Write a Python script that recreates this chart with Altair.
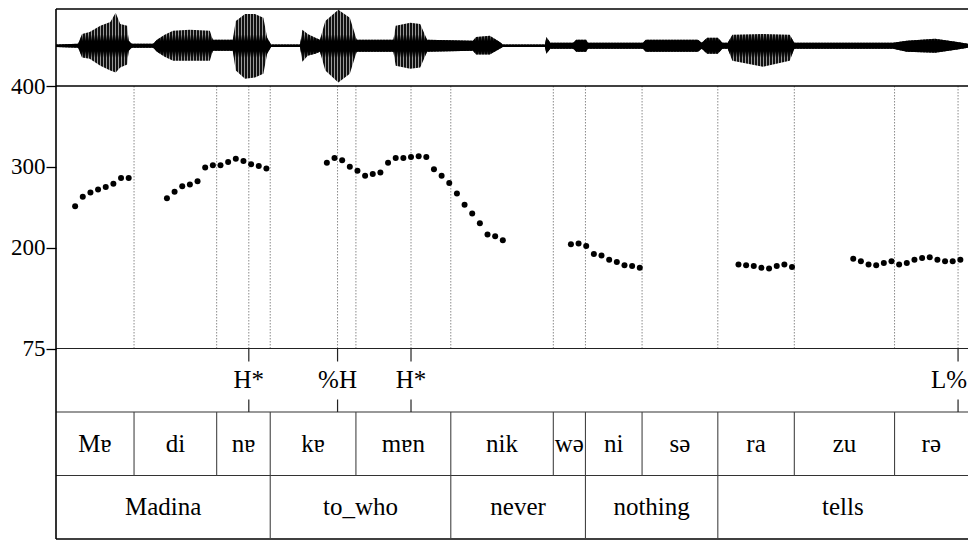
import altair as alt
import pandas as pd

T_END = 1.192
W, H = 912, 530

# ---- pitch track (time s, F0 Hz) ----
f0_time = [0.025, 0.035, 0.045, 0.055, 0.065, 0.075, 0.085, 0.095,
           0.145, 0.155, 0.165, 0.175, 0.185, 0.195, 0.205, 0.215, 0.225, 0.235, 0.245, 0.255, 0.265, 0.275,
           0.354, 0.364, 0.374, 0.384, 0.394, 0.404, 0.414, 0.424, 0.434, 0.444, 0.454, 0.464, 0.474, 0.484,
           0.494, 0.504, 0.514, 0.524, 0.534, 0.544, 0.554, 0.564, 0.574, 0.584,
           0.673, 0.683, 0.693, 0.703, 0.713, 0.723, 0.733, 0.743, 0.753, 0.763,
           0.892, 0.902, 0.912, 0.922, 0.932, 0.942, 0.952, 0.962,
           1.042, 1.052, 1.062, 1.072, 1.082, 1.092, 1.102, 1.112, 1.122, 1.132, 1.142, 1.152, 1.162, 1.172, 1.182]
f0_hz = [251, 263, 268, 272, 275, 279, 286, 286,
         261, 269, 276, 278, 282, 299, 302, 302, 306, 310, 307, 303, 301, 298,
         305, 311, 308, 300, 295, 289, 291, 293, 305, 311, 311, 312, 313, 312,
         297, 289, 280, 267, 253, 242, 230, 216, 214, 209,
         204, 205, 202, 192, 190, 185, 182, 178, 177, 175,
         179, 178, 177, 175, 174, 177, 179, 176,
         186, 183, 179, 178, 181, 183, 179, 181, 185, 187, 188, 185, 183, 183, 185]

# ---- waveform envelope (time s, upper / lower relative amplitude) ----
wave_time = [0.000, 0.029, 0.034, 0.044, 0.058, 0.071, 0.078, 0.084, 0.093, 0.095, 0.099,
             0.127, 0.132, 0.142, 0.153, 0.175, 0.201, 0.205, 0.231, 0.235, 0.247, 0.260,
             0.271, 0.276, 0.281, 0.319, 0.322, 0.329, 0.339, 0.345, 0.352, 0.369, 0.384,
             0.393, 0.441, 0.444, 0.463, 0.476, 0.485, 0.545, 0.549, 0.567, 0.580, 0.584,
             0.639, 0.641, 0.646, 0.676, 0.680, 0.693, 0.695, 0.767, 0.771, 0.839, 0.844,
             0.851, 0.865, 0.871, 0.878, 0.884, 0.924, 0.959, 0.965, 1.094, 1.112, 1.149,
             1.178, 1.192]
wave_up = [0.03, 0.05, 0.31, 0.36, 0.52, 0.62, 0.86, 0.57, 0.52, 0.13, 0.05,
           0.05, 0.16, 0.29, 0.39, 0.42, 0.39, 0.16, 0.16, 0.65, 0.83, 0.83,
           0.73, 0.21, 0.03, 0.03, 0.42, 0.31, 0.21, 0.16, 0.65, 0.94, 0.73,
           0.16, 0.16, 0.52, 0.60, 0.57, 0.16, 0.13, 0.23, 0.26, 0.10, 0.03,
           0.03, 0.23, 0.08, 0.08, 0.16, 0.16, 0.08, 0.08, 0.16, 0.16, 0.08,
           0.21, 0.21, 0.08, 0.08, 0.29, 0.31, 0.29, 0.08, 0.08, 0.13, 0.18,
           0.10, 0.05]
wave_down = [0.03, 0.05, 0.31, 0.34, 0.52, 0.65, 0.70, 0.57, 0.49, 0.13, 0.05,
             0.05, 0.16, 0.29, 0.39, 0.39, 0.39, 0.13, 0.13, 0.65, 0.86, 0.83,
             0.73, 0.21, 0.03, 0.03, 0.42, 0.26, 0.21, 0.16, 0.65, 0.96, 0.73,
             0.16, 0.16, 0.52, 0.60, 0.57, 0.16, 0.13, 0.23, 0.23, 0.08, 0.03,
             0.03, 0.21, 0.08, 0.08, 0.16, 0.16, 0.08, 0.08, 0.16, 0.16, 0.08,
             0.21, 0.21, 0.08, 0.08, 0.39, 0.55, 0.39, 0.08, 0.08, 0.16, 0.18,
             0.10, 0.05]

# ---- tiers ----
tone_labels = ["H*", "%H", "H*", "L%"]
tone_time = [0.252, 0.368, 0.464, 1.179]

syll_labels = ["M\u0250", "di", "n\u0250", "k\u0250", "m\u0250n", "nik", "w\u0259", "ni", "s\u0259", "ra", "zu", "r\u0259"]
syll_start = [0.000, 0.102, 0.210, 0.280, 0.392, 0.516, 0.650, 0.692, 0.766, 0.865, 0.965, 1.096]
syll_end = [0.102, 0.210, 0.280, 0.392, 0.516, 0.650, 0.692, 0.766, 0.865, 0.965, 1.096, 1.192]

word_labels = ["Madina", "to_who", "never", "nothing", "tells"]
word_start = [0.000, 0.280, 0.516, 0.692, 0.865]
word_end = [0.280, 0.516, 0.692, 0.865, 1.192]

# ---- frames ----
pitch_df = pd.DataFrame({"t": f0_time, "f0": f0_hz})
wave_df = pd.DataFrame({"t": wave_time, "hi": wave_up, "lo": [-v for v in wave_down]})
tone_df = pd.DataFrame({"t": tone_time, "label": tone_labels})
syll_df = pd.DataFrame({"start": syll_start, "end": syll_end, "label": syll_labels})
syll_df["mid"] = (syll_df["start"] + syll_df["end"]) / 2
word_df = pd.DataFrame({"start": word_start, "end": word_end, "label": word_labels})
word_df["mid"] = (word_df["start"] + word_df["end"]) / 2
syll_bounds = pd.DataFrame({"t": syll_start[1:]})
word_bounds = pd.DataFrame({"t": word_start[1:]})
dotted_df = pd.DataFrame({"t": sorted(syll_start[1:] + tone_time)})

xs = alt.Scale(domain=[0, T_END], nice=False, zero=False)
X = lambda f: alt.X(f, type="quantitative", scale=xs, axis=None)

# y layout (pixels from the plot top)
WAVE_BOT = 77
PITCH_BOT = 339.5
TONE_BOT = 403
SYL_BOT = 466.5

FONT = "Liberation Serif, Times New Roman, Times, serif"
one = pd.DataFrame({"k": [0]})

# striped fill to imitate the oscillation of the waveform (styling only)
N_STRIPES = 304
stripe_stops = []
for i in range(N_STRIPES):
    a, b, c = i / N_STRIPES, (i + 0.6) / N_STRIPES, (i + 1) / N_STRIPES
    stripe_stops += [alt.GradientStop(color="#111111", offset=a),
                     alt.GradientStop(color="#111111", offset=b),
                     alt.GradientStop(color="#9a9a9a", offset=b),
                     alt.GradientStop(color="#9a9a9a", offset=c)]

wave_y = alt.Y("hi:Q", scale=alt.Scale(domain=[-1, 1], range=[75, -1.5], nice=False, zero=False), axis=None)

wave = alt.Chart(wave_df).mark_area(
    color=alt.Gradient(gradient="linear", stops=stripe_stops, x1=0, x2=1, y1=0, y2=0),
    interpolate="linear",
).encode(x=X("t"), y=wave_y, y2="lo:Q")

wave_core = alt.Chart(wave_df).mark_area(
    color=alt.Gradient(
        gradient="linear",
        stops=[alt.GradientStop(color="rgba(0,0,0,0)", offset=0),
               alt.GradientStop(color="rgba(0,0,0,0)", offset=0.34),
               alt.GradientStop(color="rgba(0,0,0,1)", offset=0.43),
               alt.GradientStop(color="rgba(0,0,0,1)", offset=0.57),
               alt.GradientStop(color="rgba(0,0,0,0)", offset=0.66),
               alt.GradientStop(color="rgba(0,0,0,0)", offset=1)],
        x1=0, x2=0, y1=0, y2=1),
    interpolate="linear",
).encode(x=X("t"), y=wave_y, y2="lo:Q")

dotted = alt.Chart(dotted_df).mark_rule(color="#8a8a8a", strokeWidth=1, strokeDash=[1.5, 1.5]).encode(
    x=X("t"), y=alt.value(WAVE_BOT), y2=alt.value(PITCH_BOT)
)

pitch = alt.Chart(pitch_df).mark_circle(size=36, color="black", opacity=1).encode(
    x=X("t"),
    y=alt.Y("f0:Q",
            scale=alt.Scale(domain=[75, 400], range=[PITCH_BOT, WAVE_BOT], nice=False, zero=False),
            axis=alt.Axis(values=[75, 200, 300, 400], title=None, grid=False, domain=False,
                          tickSize=10, tickColor="black", tickWidth=1.3,
                          labelFont=FONT, labelFontSize=23, labelColor="black",
                          labelPadding=1)),
)

lines = []
for yv, col, sw in [(0, "black", 1.6), (WAVE_BOT, "black", 1.6), (PITCH_BOT, "#222222", 1.1),
                    (TONE_BOT, "#333333", 1.1), (SYL_BOT, "#333333", 1.1), (H, "black", 1.6)]:
    lines.append(
        alt.Chart(one).mark_rule(color=col, strokeWidth=sw).encode(
            x=alt.value(0), x2=alt.value(W), y=alt.value(yv)
        )
    )
lines.append(
    alt.Chart(one).mark_rule(color="black", strokeWidth=1.6).encode(
        x=alt.value(0), y=alt.value(0), y2=alt.value(H)
    )
)

tone_top = alt.Chart(tone_df).mark_rule(color="#222222", strokeWidth=1.2).encode(
    x=X("t"), y=alt.value(PITCH_BOT), y2=alt.value(PITCH_BOT + 13)
)
tone_bot = alt.Chart(tone_df).mark_rule(color="#222222", strokeWidth=1.2).encode(
    x=X("t"), y=alt.value(TONE_BOT - 12.5), y2=alt.value(TONE_BOT)
)
tone_text = alt.Chart(tone_df).transform_filter(alt.datum.label != "L%").mark_text(
    font=FONT, fontSize=25, color="black", align="center", baseline="middle"
).encode(
    x=X("t"), y=alt.value((PITCH_BOT + TONE_BOT) / 2), text="label:N"
)
tone_text_edge = alt.Chart(tone_df).transform_filter(alt.datum.label == "L%").mark_text(
    font=FONT, fontSize=25, color="black", align="right", baseline="middle", dx=9
).encode(
    x=X("t"), y=alt.value((PITCH_BOT + TONE_BOT) / 2), text="label:N"
)

syl_lines = alt.Chart(syll_bounds).mark_rule(color="#444444", strokeWidth=1.1).encode(
    x=X("t"), y=alt.value(TONE_BOT), y2=alt.value(SYL_BOT)
)
syl_text = alt.Chart(syll_df).mark_text(font=FONT, fontSize=25, color="black",
                                        align="center", baseline="middle").encode(
    x=X("mid"), y=alt.value((TONE_BOT + SYL_BOT) / 2), text="label:N"
)

word_lines = alt.Chart(word_bounds).mark_rule(color="#444444", strokeWidth=1.1).encode(
    x=X("t"), y=alt.value(SYL_BOT), y2=alt.value(H)
)
word_text = alt.Chart(word_df).mark_text(font=FONT, fontSize=25, color="black",
                                         align="center", baseline="middle").encode(
    x=X("mid"), y=alt.value((SYL_BOT + H) / 2), text="label:N"
)

chart = alt.layer(
    wave, wave_core, dotted, *lines, pitch, tone_top, tone_bot, tone_text, tone_text_edge,
    syl_lines, syl_text, word_lines, word_text
).resolve_scale(y="independent").properties(
    width=W, height=H,
    autosize=alt.AutoSizeParams(type="none"),
    padding={"left": 48, "top": 1, "right": 0, "bottom": 1},
    background="white",
).configure_view(stroke=None)

chart.save("out.html", embed_options={"renderer": "svg", "actions": False})
